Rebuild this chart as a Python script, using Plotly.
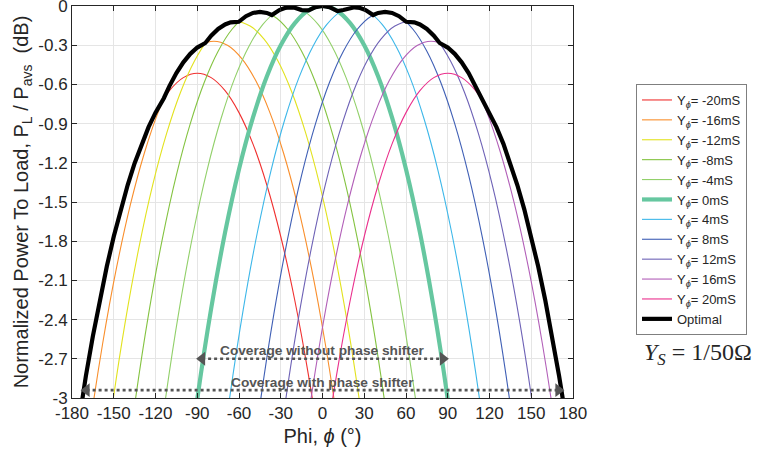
import plotly.graph_objects as go

# ---------------- data ----------------
LABELS = ["-20mS", "-16mS", "-12mS", "-8mS", "-4mS", "0mS",
          "4mS", "8mS", "12mS", "16mS", "20mS"]
COLORS = ["#f0302f", "#f98e2b", "#e2e21e", "#84c341", "#92d06a", "#66c7a0",
          "#3db7e9", "#3f5fb5", "#6e62b6", "#b25fb8", "#ea2f8c"]
WIDTHS = [1.1, 1.1, 1.1, 1.1, 1.1, 4.2, 1.1, 1.1, 1.1, 1.1, 1.1]

PHI_M20 = [-180, -170, -160, -150, -140, -130, -120, -110, -100, -90, -80, -70, -60, -50, -40, -30, -20, -10, 0, 10]
DB_M20 = [-3.525, -2.830, -2.248, -1.764, -1.370, -1.055, -0.816, -0.648, -0.548, -0.515, -0.548, -0.648, -0.816, -1.055, -1.370, -1.764, -2.248, -2.830, -3.525, -4.353]

PHI_M16 = [-178, -168, -158, -148, -138, -128, -118, -108, -98, -88, -78, -68, -58, -48, -38, -28, -18, -8, 2, 12, 22]
DB_M16 = [-4.108, -3.280, -2.585, -2.003, -1.519, -1.125, -0.810, -0.571, -0.403, -0.303, -0.270, -0.303, -0.403, -0.571, -0.810, -1.125, -1.519, -2.003, -2.585, -3.280, -4.108]

PHI_M12 = [-162, -152, -142, -132, -122, -112, -102, -92, -82, -72, -62, -52, -42, -32, -22, -12, -2, 8, 18, 28, 38]
DB_M12 = [-3.958, -3.130, -2.435, -1.853, -1.369, -0.975, -0.660, -0.421, -0.253, -0.153, -0.120, -0.153, -0.253, -0.421, -0.660, -0.975, -1.369, -1.853, -2.435, -3.130, -3.958]

PHI_M8 = [-145, -135, -125, -115, -105, -95, -85, -75, -65, -55, -45, -35, -25, -15, -5, 5, 15, 25, 35, 45, 55]
DB_M8 = [-3.883, -3.055, -2.360, -1.778, -1.294, -0.900, -0.585, -0.346, -0.178, -0.078, -0.045, -0.078, -0.178, -0.346, -0.585, -0.900, -1.294, -1.778, -2.360, -3.055, -3.883]

PHI_M4 = [-123, -113, -103, -93, -83, -73, -63, -53, -43, -33, -23, -13, -3, 7, 17, 27, 37, 47, 57, 67, 77]
DB_M4 = [-3.848, -3.020, -2.325, -1.743, -1.259, -0.865, -0.550, -0.311, -0.143, -0.043, -0.010, -0.043, -0.143, -0.311, -0.550, -0.865, -1.259, -1.743, -2.325, -3.020, -3.848]

PHI_0 = [-100, -90, -80, -70, -60, -50, -40, -30, -20, -10, 0, 10, 20, 30, 40, 50, 60, 70, 80, 90, 100]
DB_0 = [-3.838, -3.010, -2.315, -1.733, -1.249, -0.855, -0.540, -0.301, -0.133, -0.033, 0.000, -0.033, -0.133, -0.301, -0.540, -0.855, -1.249, -1.733, -2.315, -3.010, -3.838]

PHI_P4 = [-77, -67, -57, -47, -37, -27, -17, -7, 3, 13, 23, 33, 43, 53, 63, 73, 83, 93, 103, 113, 123]
DB_P4 = [-3.848, -3.020, -2.325, -1.743, -1.259, -0.865, -0.550, -0.311, -0.143, -0.043, -0.010, -0.043, -0.143, -0.311, -0.550, -0.865, -1.259, -1.743, -2.325, -3.020, -3.848]

PHI_P8 = [-55, -45, -35, -25, -15, -5, 5, 15, 25, 35, 45, 55, 65, 75, 85, 95, 105, 115, 125, 135, 145]
DB_P8 = [-3.883, -3.055, -2.360, -1.778, -1.294, -0.900, -0.585, -0.346, -0.178, -0.078, -0.045, -0.078, -0.178, -0.346, -0.585, -0.900, -1.294, -1.778, -2.360, -3.055, -3.883]

PHI_P12 = [-38, -28, -18, -8, 2, 12, 22, 32, 42, 52, 62, 72, 82, 92, 102, 112, 122, 132, 142, 152, 162]
DB_P12 = [-3.958, -3.130, -2.435, -1.853, -1.369, -0.975, -0.660, -0.421, -0.253, -0.153, -0.120, -0.153, -0.253, -0.421, -0.660, -0.975, -1.369, -1.853, -2.435, -3.130, -3.958]

PHI_P16 = [-22, -12, -2, 8, 18, 28, 38, 48, 58, 68, 78, 88, 98, 108, 118, 128, 138, 148, 158, 168, 178]
DB_P16 = [-4.108, -3.280, -2.585, -2.003, -1.519, -1.125, -0.810, -0.571, -0.403, -0.303, -0.270, -0.303, -0.403, -0.571, -0.810, -1.125, -1.519, -2.003, -2.585, -3.280, -4.108]

PHI_P20 = [-10, 0, 10, 20, 30, 40, 50, 60, 70, 80, 90, 100, 110, 120, 130, 140, 150, 160, 170, 180]
DB_P20 = [-4.353, -3.525, -2.830, -2.248, -1.764, -1.370, -1.055, -0.816, -0.648, -0.548, -0.515, -0.548, -0.648, -0.816, -1.055, -1.370, -1.764, -2.248, -2.830, -3.525]

PHI_OPT = [-180, -175, -170, -165, -160, -155, -150, -145, -140, -135, -130, -125, -120, -114,
           -110, -105, -100, -95, -90, -84.2, -80, -75, -70, -66, -60.2, -55, -50, -45, -40,
           -36.4, -31, -27, -23, -20, -15, -10.8, -10, -5, 0,
           5, 10, 10.8, 15, 20, 23, 27, 31, 36.4, 40, 45, 50, 55, 60.2, 66, 70, 75, 80, 84.2,
           90, 95, 100, 105, 110, 114, 120, 125, 130, 135, 140, 145, 150, 155, 160, 165, 170, 175, 180]
DB_OPT = [-3.525, -3.162, -2.830, -2.526, -2.248, -1.994, -1.764, -1.556, -1.370, -1.203, -1.055, -0.927, -0.816, -0.706,
          -0.613, -0.513, -0.431, -0.366, -0.318, -0.283, -0.228, -0.176, -0.141, -0.125, -0.121, -0.078, -0.053, -0.045, -0.053,
          -0.069, -0.031, -0.015, -0.010, -0.013, -0.031, -0.039, -0.033, -0.008, 0.000,
          -0.008, -0.033, -0.039, -0.031, -0.013, -0.010, -0.015, -0.031, -0.069, -0.053, -0.045, -0.053, -0.078, -0.121, -0.125, -0.141, -0.176, -0.228, -0.283,
          -0.318, -0.366, -0.431, -0.513, -0.613, -0.706, -0.816, -0.927, -1.055, -1.203, -1.370, -1.556, -1.764, -1.994, -2.248, -2.526, -2.830, -3.162, -3.525]

CURVES = [(PHI_M20, DB_M20), (PHI_M16, DB_M16), (PHI_M12, DB_M12), (PHI_M8, DB_M8),
          (PHI_M4, DB_M4), (PHI_0, DB_0), (PHI_P4, DB_P4), (PHI_P8, DB_P8),
          (PHI_P12, DB_P12), (PHI_P16, DB_P16), (PHI_P20, DB_P20)]

X_TICKS = [-180, -150, -120, -90, -60, -30, 0, 30, 60, 90, 120, 150, 180]
X_TICKTEXT = ["-180", "-150", "-120", "-90", "-60", "-30", "0", "30", "60", "90", "120", "150", "180"]
Y_TICKS = [0, -0.3, -0.6, -0.9, -1.2, -1.5, -1.8, -2.1, -2.4, -2.7, -3]
Y_TICKTEXT = ["0", "-0.3", "-0.6", "-0.9", "-1.2", "-1.5", "-1.8", "-2.1", "-2.4", "-2.7", "-3"]

COVER_NO_PS = [-90, 90]      # coverage without phase shifter (deg)
COVER_NO_PS_Y = -2.70
COVER_PS = [-173, 173]       # coverage with phase shifter (deg)
COVER_PS_Y = -2.94

FONT = "Liberation Sans, Arial, Helvetica, sans-serif"
TXT = "#262626"
ARROW = "#555555"
HEAD_INSET = 3.5   # arrow-head marker inset from the line end (deg)

fig = go.Figure()

for (phi, db), lab, col, w in zip(CURVES, LABELS, COLORS, WIDTHS):
    fig.add_trace(go.Scatter(
        x=phi, y=db, mode="lines", name="Y<sub><i>ϕ</i></sub>= " + lab,
        line=dict(color=col, width=w, shape="spline", smoothing=1.0)))

fig.add_trace(go.Scatter(
    x=PHI_OPT, y=DB_OPT, mode="lines", name="Optimal",
    line=dict(color="black", width=4.2)))

# dotted coverage lines with arrow heads
for xs, yv in [(COVER_NO_PS, COVER_NO_PS_Y), (COVER_PS, COVER_PS_Y)]:
    fig.add_trace(go.Scatter(
        x=[xs[0] + HEAD_INSET, xs[1] - HEAD_INSET], y=[yv, yv], mode="lines",
        showlegend=False, hoverinfo="skip",
        line=dict(color=ARROW, width=2.6, dash="dot")))
    fig.add_trace(go.Scatter(
        x=[xs[0] + HEAD_INSET, xs[1] - HEAD_INSET], y=[yv, yv], mode="markers",
        showlegend=False, hoverinfo="skip",
        marker=dict(symbol=["triangle-left", "triangle-right"], size=12,
                    color=ARROW, line=dict(width=0))))

annotations = []
annotations.append(dict(
    x=(COVER_NO_PS[0] + COVER_NO_PS[1]) / 2, y=COVER_NO_PS_Y, xref="x", yref="y",
    text="<b>Coverage without phase shifter</b>", showarrow=False,
    yshift=8, font=dict(family=FONT, size=13.7, color=ARROW)))
annotations.append(dict(
    x=(COVER_PS[0] + COVER_PS[1]) / 2, y=COVER_PS_Y, xref="x", yref="y",
    text="<b>Coverage with phase shifter</b>", showarrow=False,
    yshift=8, font=dict(family=FONT, size=13.7, color=ARROW)))
annotations.append(dict(
    x=1.25, y=0.112, xref="paper", yref="paper", xanchor="center", yanchor="middle",
    text="<i>Y</i><sub><i>S</i></sub> = 1/50Ω", showarrow=False,
    font=dict(family="Liberation Serif, DejaVu Serif, serif", size=24, color=TXT)))

fig.update_layout(
    width=758, height=455,
    margin=dict(l=72, r=185, t=6, b=57, autoexpand=False),
    paper_bgcolor="white", plot_bgcolor="white",
    font=dict(family=FONT, size=16, color=TXT),
    showlegend=True,
    legend=dict(
        x=1.1257, y=0.801, xanchor="left", yanchor="top",
        bgcolor="white", bordercolor="#7f7f7f", borderwidth=1,
        font=dict(family=FONT, size=13, color=TXT),
        tracegroupgap=0, itemwidth=30),
    annotations=annotations,
)

fig.update_xaxes(
    range=[-180, 180], tickvals=X_TICKS, ticktext=X_TICKTEXT,
    showgrid=True, gridcolor="#e5e5e5", gridwidth=1,
    showline=True, linecolor=TXT, linewidth=1, mirror="ticks",
    ticks="inside", ticklen=5, tickcolor=TXT, zeroline=False,
    ticklabeloverflow="allow",
    tickfont=dict(family=FONT, size=17, color=TXT), automargin=False,
    title=dict(text="Phi, <i>ϕ</i> (°)", font=dict(family=FONT, size=20, color=TXT), standoff=6),
)
fig.update_yaxes(
    range=[-3, 0], tickvals=Y_TICKS, ticktext=Y_TICKTEXT,
    showgrid=True, gridcolor="#e5e5e5", gridwidth=1,
    showline=True, linecolor=TXT, linewidth=1, mirror="ticks",
    ticks="inside", ticklen=5, tickcolor=TXT, zeroline=False,
    ticklabeloverflow="allow",
    tickfont=dict(family=FONT, size=17, color=TXT), automargin=False,
    title=dict(text="Normalized Power To Load, P<sub>L</sub> / P<sub>avs</sub>  (dB)",
               font=dict(family=FONT, size=20, color=TXT), standoff=4),
)

fig.write_html("out.html", config={"displayModeBar": False},
               post_script="document.body.style.margin='0';document.body.style.padding='0';")
